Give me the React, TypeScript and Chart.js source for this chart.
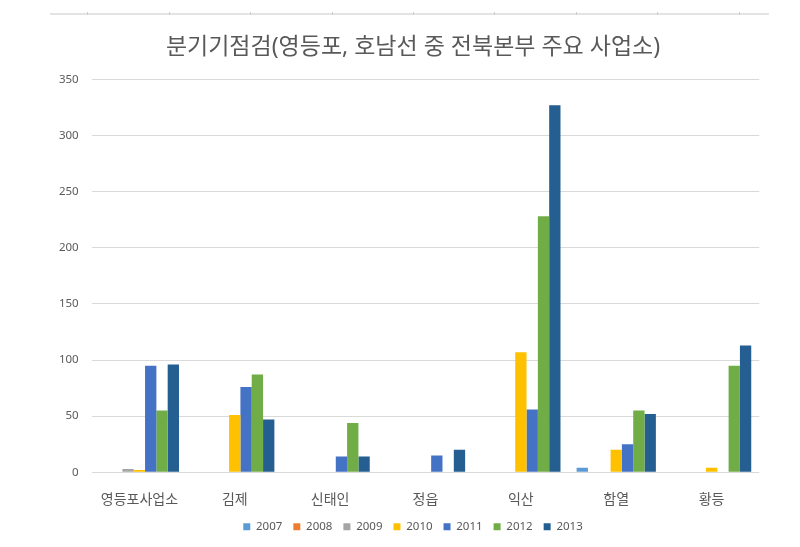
import React, { useEffect, useRef } from "react";
import { Chart, registerables } from "chart.js";

Chart.register(...registerables);

const TITLE = "분기기점검(영등포, 호남선 중 전북본부 주요 사업소)";
const categories = ["영등포사업소", "김제", "신태인", "정읍", "익산", "함열", "황등"];
const seriesNames = ["2007", "2008", "2009", "2010", "2011", "2012", "2013"];
const v2007 = [0, 0, 0, 0, 0, 4, 0];
const v2008 = [0, 0, 0, 0, 0, 0, 0];
const v2009 = [3, 0, 0, 0, 0, 0, 0];
const v2010 = [2, 51, 0, 0, 107, 20, 4];
const v2011 = [95, 76, 14, 15, 56, 25, 0];
const v2012 = [55, 87, 44, 0, 228, 55, 95];
const v2013 = [96, 47, 14, 20, 327, 52, 113];
const seriesValues = [v2007, v2008, v2009, v2010, v2011, v2012, v2013];
const seriesColors = ["#5B9BD5", "#ED7D31", "#A5A5A5", "#FFC000", "#4472C4", "#70AD47", "#255E91"];
const yTicks = { min: 0, max: 350, step: 50 };

const FONT = "'Noto Sans', 'Noto Sans CJK KR', sans-serif";
const TEXT = "#595959";

const topStrip = {
  id: "topStrip",
  beforeDraw(chart: any) {
    const ctx = chart.ctx;
    ctx.save();
    ctx.fillStyle = "#e3e3e3";
    ctx.fillRect(50, 13, 719, 2);
    ctx.fillStyle = "#cccccc";
    [87, 169, 250, 332, 413, 494, 576, 657, 739].forEach((x) => ctx.fillRect(x, 12, 1, 3));
    ctx.restore();
  },
};

export default function App() {
  const ref = useRef<HTMLCanvasElement>(null);
  useEffect(() => {
    document.body.style.margin = "0";
    const chart = new Chart(ref.current!, {
      type: "bar",
      data: {
        labels: categories,
        datasets: seriesNames.map((n, i) => ({
          label: n,
          data: seriesValues[i],
          backgroundColor: seriesColors[i],
          borderWidth: 0,
          yAxisID: "y",
          categoryPercentage: 0.831,
          barPercentage: 1.0,
        })),
      },
      options: {
        responsive: false,
        animation: false,
        layout: { padding: { left: 26, right: 0, top: 0, bottom: 4.5 } },
        plugins: {
          title: {
            display: true,
            text: TITLE,
            color: TEXT,
            font: { family: FONT, size: 23, weight: "normal" },
            padding: { top: 33.7, bottom: 18 },
          },
          legend: {
            position: "bottom",
            labels: {
              color: TEXT,
              font: { family: FONT, size: 11.5 },
              boxWidth: 7,
              boxHeight: 7,
              padding: 11,
            },
          },
          tooltip: { enabled: false },
        },
        scales: {
          x: {
            grid: { display: false },
            border: { display: false },
            ticks: { color: TEXT, font: { family: FONT, size: 14 }, padding: 11.5, maxRotation: 0 },
            afterFit: (s: any) => { s.height = 37.7; },
          },
          y: {
            min: yTicks.min,
            max: yTicks.max,
            ticks: { stepSize: yTicks.step, color: TEXT, font: { family: FONT, size: 11.5 }, padding: 13 },
            grid: { color: "#d9d9d9", drawTicks: false },
            border: { display: false },
            afterFit: (s: any) => { s.width = 65.7; },
          },
          y2: {
            position: "right",
            display: true,
            grid: { display: false },
            border: { display: false },
            ticks: { display: false },
            afterFit: (s: any) => { s.width = 40.7; },
          },
        },
      },
      plugins: [topStrip],
    });
    return () => chart.destroy();
  }, []);
  return (
    <div style={{ position: "absolute", left: 0, top: 0, width: 800, height: 547, background: "#fff" }}>
      <canvas ref={ref} width={800} height={547} />
    </div>
  );
}
